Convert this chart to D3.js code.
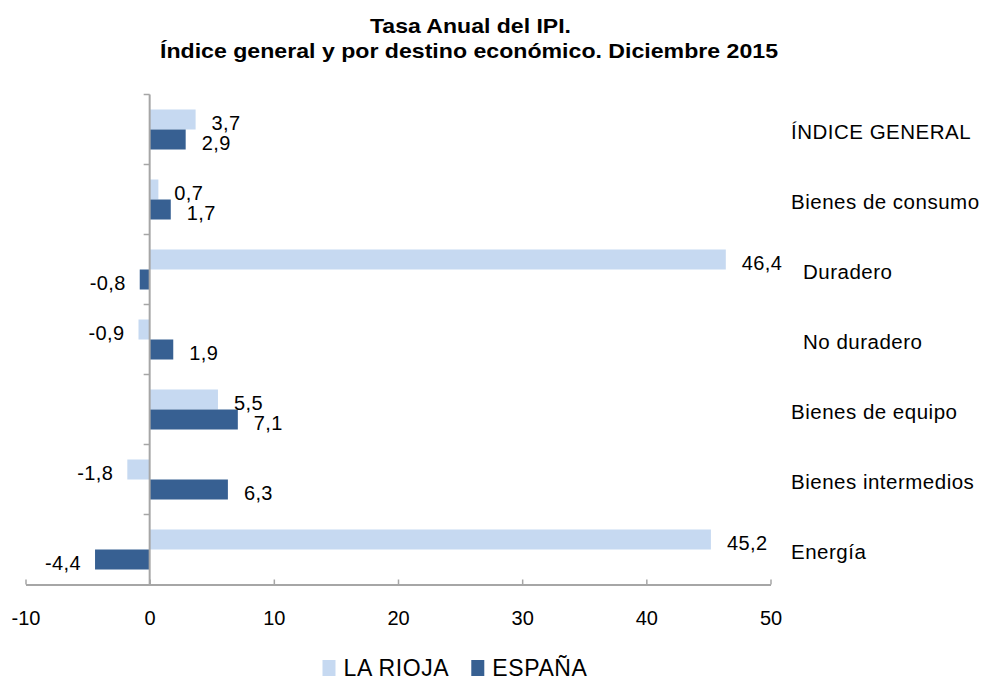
<!DOCTYPE html>
<html>
<head>
<meta charset="utf-8">
<script src="https://cdn.jsdelivr.net/npm/d3@7"></script>
<style>
  body { margin: 0; background: #ffffff; }
  svg text { font-family: "Liberation Sans", Arial, Helvetica, sans-serif; fill: #000; }
</style>
</head>
<body>
<div id="chart"></div>
<script>
// Categories (top to bottom) and the two series
const categories = ["ÍNDICE GENERAL", "Bienes de consumo", "Duradero", "No duradero",
                    "Bienes de equipo", "Bienes intermedios", "Energía"];
const seriesNames = ["LA RIOJA", "ESPAÑA"];
const laRioja = [3.7, 0.7, 46.4, -0.9, 5.5, -1.8, 45.2];
const espana = [2.9, 1.7, -0.8, 1.9, 7.1, 6.3, -4.4];
const xTicks = [-10, 0, 10, 20, 30, 40, 50];
// sub-categories are indented a little in the original
const indented = ["Duradero", "No duradero"];

const colors = { "LA RIOJA": "#c6d9f1", "ESPAÑA": "#376092" };
const axisColor = "#a6a6a6";

const width = 982, height = 684;

const svg = d3.select("#chart")
    .append("svg")
    .attr("width", width)
    .attr("height", height);

// scales
const x = d3.scaleLinear()
    .domain([-10, 50])
    .range([25.5, 770.5]);

const y = d3.scaleBand()
    .domain(categories)
    .range([94.5, 584.5])
    .padding(0);

const ySub = d3.scaleBand()
    .domain(seriesNames)
    .range([15, 55])
    .padding(0);

// title (the original is drawn a bit wide, so stretch to its width)
const title = svg.append("g")
    .style("font-size", "21px")
    .style("font-weight", "bold");
title.append("text")
    .attr("x", 370).attr("y", 33)
    .attr("textLength", 201).attr("lengthAdjust", "spacingAndGlyphs")
    .text("Tasa Anual del IPI.");
title.append("text")
    .attr("x", 160).attr("y", 58)
    .attr("textLength", 618).attr("lengthAdjust", "spacingAndGlyphs")
    .text("Índice general y por destino económico. Diciembre 2015");

// flatten data
const rows = [];
categories.forEach((c, i) => {
    rows.push({ cat: c, series: "LA RIOJA", value: laRioja[i] });
    rows.push({ cat: c, series: "ESPAÑA", value: espana[i] });
});

// bars
svg.selectAll("rect.bar")
    .data(rows)
    .enter()
    .append("rect")
    .attr("class", "bar")
    .attr("x", d => x(Math.min(0, d.value)))
    .attr("y", d => y(d.cat) + ySub(d.series))
    .attr("width", d => Math.abs(x(d.value) - x(0)))
    .attr("height", ySub.bandwidth())
    .attr("fill", d => colors[d.series]);

// value labels (comma decimal, plain hyphen)
const fmt = v => d3.format(".1f")(v).replace(".", ",").replace("−", "-");
svg.selectAll("text.value")
    .data(rows)
    .enter()
    .append("text")
    .attr("class", "value")
    .attr("x", d => d.value >= 0 ? x(d.value) + 16 : x(d.value) - 14)
    .attr("y", d => y(d.cat) + ySub(d.series) + ySub.bandwidth() / 2 + 10)
    .attr("text-anchor", d => d.value >= 0 ? "start" : "end")
    .style("font-size", "20px")
    .style("letter-spacing", "0.4px")
    .text(d => fmt(d.value));

// category labels on the right
svg.selectAll("text.cat")
    .data(categories)
    .enter()
    .append("text")
    .attr("class", "cat")
    .attr("x", d => indented.includes(d) ? 803 : 791)
    .attr("y", d => y(d) + y.bandwidth() / 2 + 9)
    .style("font-size", "20.5px")
    .style("letter-spacing", "0.5px")
    .text(d => d);

// x axis (ticks point inward/up)
const xAxis = svg.append("g")
    .attr("transform", `translate(0, ${y.range()[1]})`)
    .call(d3.axisBottom(x)
        .tickValues(xTicks)
        .tickFormat(d => String(d))
        .tickSizeInner(-5)
        .tickSizeOuter(0)
        .tickPadding(26));
xAxis.select(".domain").attr("stroke", axisColor).attr("stroke-width", 2);
xAxis.selectAll(".tick line").attr("stroke", axisColor).attr("stroke-width", 1.5);
xAxis.selectAll(".tick text")
    .style("font-size", "20px")
    .style("font-family", "'Liberation Sans', Arial, sans-serif")
    .attr("fill", "#000");

// y axis at zero, ticks on band boundaries pointing left
const yAxis = svg.append("g");
yAxis.append("line")
    .attr("x1", x(0)).attr("x2", x(0))
    .attr("y1", y.range()[0]).attr("y2", y.range()[1])
    .attr("stroke", axisColor)
    .attr("stroke-width", 2);
yAxis.selectAll("line.ytick")
    .data(categories)
    .enter()
    .append("line")
    .attr("class", "ytick")
    .attr("x1", x(0) - 6).attr("x2", x(0))
    .attr("y1", d => y(d)).attr("y2", d => y(d))
    .attr("stroke", axisColor)
    .attr("stroke-width", 1.5);

// legend
const legend = svg.append("g");
let lx = 0;
seriesNames.forEach(s => {
    const item = legend.append("g").attr("transform", `translate(${lx}, 0)`);
    item.append("rect")
        .attr("x", 0).attr("y", -8)
        .attr("width", 13).attr("height", 16)
        .attr("fill", colors[s]);
    const t = item.append("text")
        .attr("x", 21).attr("y", 8)
        .style("font-size", "23px")
        .style("letter-spacing", "0.6px")
        .text(s);
    lx += 21 + t.node().getComputedTextLength() + 22;
});
const legendWidth = lx - 22;
legend.attr("transform", `translate(${455 - legendWidth / 2}, 668)`);
</script>
</body>
</html>
